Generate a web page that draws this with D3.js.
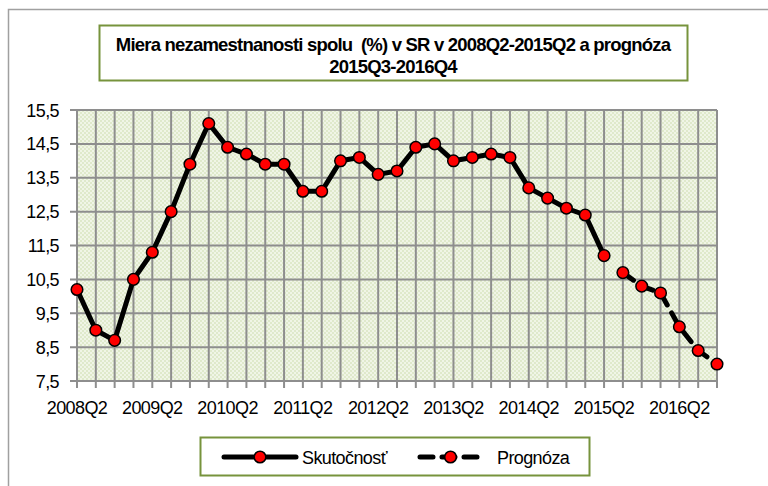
<!DOCTYPE html>
<html>
<head>
<meta charset="utf-8">
<script src="https://cdn.jsdelivr.net/npm/d3@7"></script>
<style>
  body { margin: 0; background: #fff; }
  svg { display: block; font-family: "Liberation Sans", Arial, sans-serif; }
</style>
</head>
<body>
<div id="chart"></div>
<script>
// quarters on the x axis
var quarters = [
  '2008Q2', '2008Q3', '2008Q4',
  '2009Q1', '2009Q2', '2009Q3', '2009Q4',
  '2010Q1', '2010Q2', '2010Q3', '2010Q4',
  '2011Q1', '2011Q2', '2011Q3', '2011Q4',
  '2012Q1', '2012Q2', '2012Q3', '2012Q4',
  '2013Q1', '2013Q2', '2013Q3', '2013Q4',
  '2014Q1', '2014Q2', '2014Q3', '2014Q4',
  '2015Q1', '2015Q2', '2015Q3', '2015Q4',
  '2016Q1', '2016Q2', '2016Q3', '2016Q4'
];

// Skutocnost 2008Q2-2015Q2
var actual = [
  10.2, 9.0, 8.7,
  10.5, 11.3, 12.5, 13.9,
  15.1, 14.4, 14.2, 13.9,
  13.9, 13.1, 13.1, 14.0,
  14.1, 13.6, 13.7, 14.4,
  14.5, 14.0, 14.1, 14.2,
  14.1, 13.2, 12.9, 12.6,
  12.4, 11.2
];

// Prognoza 2015Q3-2016Q4
var forecastQuarters = ['2015Q3', '2015Q4', '2016Q1', '2016Q2', '2016Q3', '2016Q4'];
var forecast = [10.7, 10.3, 10.1, 9.1, 8.4, 8.0];

var yTicks = [7.5, 8.5, 9.5, 10.5, 11.5, 12.5, 13.5, 14.5, 15.5];
var xLabels = ['2008Q2', '2009Q2', '2010Q2', '2011Q2', '2012Q2', '2013Q2', '2014Q2', '2015Q2', '2016Q2'];

var titleLines = ['Miera nezamestnanosti spolu  (%) v SR v 2008Q2-2015Q2 a prognóza', '2015Q3-2016Q4'];

var W = 768, H = 486;
var m = {top: 110, right: 51, bottom: 105, left: 77};

var svg = d3.select('#chart').append('svg')
    .attr('width', W)
    .attr('height', H);

// background pattern for plot area
var defs = svg.append('defs');
var pat = defs.append('pattern')
    .attr('id', 'dots')
    .attr('width', 4).attr('height', 4)
    .attr('patternUnits', 'userSpaceOnUse');
pat.append('rect').attr('width', 4).attr('height', 4).attr('fill', '#F0F5E6');
pat.append('rect').attr('width', 2).attr('height', 2).attr('fill', '#DFE9CB');
pat.append('rect').attr('x', 2).attr('y', 2).attr('width', 2).attr('height', 2).attr('fill', '#DFE9CB');

// outer chart frame
svg.append('rect')
    .attr('x', 8.5).attr('y', 9.5)
    .attr('width', W + 10).attr('height', H + 10)
    .attr('fill', 'none')
    .attr('stroke', '#A0A0A0')
    .attr('stroke-width', 1.5);

var x = d3.scalePoint()
    .domain(quarters)
    .range([m.left, W - m.right]);

var y = d3.scaleLinear()
    .domain([7.5, 15.5])
    .range([H - m.bottom, m.top]);

var plotBottom = H - m.bottom;

svg.append('rect')
    .attr('x', m.left).attr('y', m.top)
    .attr('width', W - m.right - m.left)
    .attr('height', plotBottom - m.top)
    .attr('fill', 'url(#dots)');

var gridColor = '#8E8E8E';

// vertical gridlines + tick marks
svg.append('g')
    .selectAll('line')
    .data(quarters)
    .enter().append('line')
    .attr('x1', function (d) { return x(d); })
    .attr('x2', function (d) { return x(d); })
    .attr('y1', m.top)
    .attr('y2', plotBottom + 7)
    .attr('stroke', gridColor)
    .attr('stroke-width', 2);

// horizontal gridlines + tick marks
svg.append('g')
    .selectAll('line')
    .data(yTicks)
    .enter().append('line')
    .attr('x1', m.left - 7)
    .attr('x2', W - m.right)
    .attr('y1', function (d) { return y(d); })
    .attr('y2', function (d) { return y(d); })
    .attr('stroke', gridColor)
    .attr('stroke-width', 2);

// y labels
svg.append('g')
    .selectAll('text')
    .data(yTicks)
    .enter().append('text')
    .attr('x', m.left - 18)
    .attr('y', function (d) { return y(d) + 6.5; })
    .attr('text-anchor', 'end')
    .attr('font-size', 18)
    .attr('letter-spacing', -0.6)
    .text(function (d) { return d3.format('.1f')(d).replace('.', ','); });

// x labels
svg.append('g')
    .selectAll('text')
    .data(xLabels)
    .enter().append('text')
    .attr('x', function (d) { return x(d); })
    .attr('y', plotBottom + 33)
    .attr('text-anchor', 'middle')
    .attr('font-size', 18)
    .attr('letter-spacing', -0.6)
    .text(function (d) { return d; });

var line = d3.line()
    .x(function (d) { return x(d.q); })
    .y(function (d) { return y(d.v); });

var actualPts = actual.map(function (v, i) { return {q: quarters[i], v: v}; });
var forecastPts = forecast.map(function (v, i) { return {q: forecastQuarters[i], v: v}; });

svg.append('path')
    .datum(actualPts)
    .attr('d', line)
    .attr('fill', 'none')
    .attr('stroke', '#000')
    .attr('stroke-width', 5)
    .attr('stroke-linejoin', 'round');

svg.append('path')
    .datum(forecastPts)
    .attr('d', line)
    .attr('fill', 'none')
    .attr('stroke', '#000')
    .attr('stroke-width', 5)
    .attr('stroke-dasharray', '13,9')
    .attr('stroke-linecap', 'round');

function markers(pts) {
    svg.append('g')
        .selectAll('circle')
        .data(pts)
        .enter().append('circle')
        .attr('cx', function (d) { return x(d.q); })
        .attr('cy', function (d) { return y(d.v); })
        .attr('r', 5.8)
        .attr('fill', '#FF0000')
        .attr('stroke', '#000')
        .attr('stroke-width', 1.5);
}
markers(actualPts);
markers(forecastPts);

// title box
var green = '#77933C';
svg.append('rect')
    .attr('x', 99.5).attr('y', 25.5)
    .attr('width', 588).attr('height', 55)
    .attr('fill', '#fff')
    .attr('stroke', green)
    .attr('stroke-width', 2);

svg.append('g')
    .selectAll('text')
    .data(titleLines)
    .enter().append('text')
    .attr('x', 393)
    .attr('y', function (d, i) { return 51 + i * 22; })
    .attr('text-anchor', 'middle')
    .attr('font-size', 18.5)
    .attr('font-weight', 'bold')
    .attr('letter-spacing', -0.8)
    .style('white-space', 'pre')
    .text(function (d) { return d; });

// legend
svg.append('rect')
    .attr('x', 200.5).attr('y', 437.5)
    .attr('width', 389).attr('height', 38)
    .attr('fill', '#fff')
    .attr('stroke', green)
    .attr('stroke-width', 2);

var ly = 457;
var legendItems = [
    {name: 'Skutočnosť', x0: 224, x1: 296, tx: 302, dash: null},
    {name: 'Prognóza', x0: 420, x1: 481, tx: 497, dash: '13,9'}
];

var lg = svg.append('g').selectAll('g')
    .data(legendItems)
    .enter().append('g');

lg.append('line')
    .attr('x1', function (d) { return d.x0; })
    .attr('x2', function (d) { return d.x1; })
    .attr('y1', ly).attr('y2', ly)
    .attr('stroke', '#000')
    .attr('stroke-width', 5)
    .attr('stroke-linecap', 'round')
    .attr('stroke-dasharray', function (d) { return d.dash; });

lg.append('circle')
    .attr('cx', function (d) { return (d.x0 + d.x1) / 2; })
    .attr('cy', ly)
    .attr('r', 5.8)
    .attr('fill', '#FF0000')
    .attr('stroke', '#000')
    .attr('stroke-width', 1.5);

lg.append('text')
    .attr('x', function (d) { return d.tx; })
    .attr('y', ly + 6.5)
    .attr('font-size', 18)
    .attr('letter-spacing', -0.6)
    .text(function (d) { return d.name; });
</script>
</body>
</html>
